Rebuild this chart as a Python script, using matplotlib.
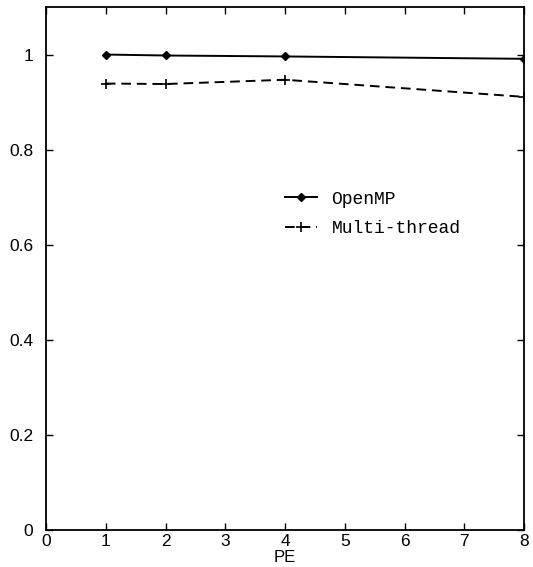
import matplotlib
matplotlib.use("Agg")
import matplotlib.pyplot as plt
from matplotlib.ticker import FuncFormatter

# data
pe = [1, 2, 4, 8]
openmp = [1.0, 0.998, 0.996, 0.991]
multi_thread = [0.939, 0.938, 0.947, 0.911]

xticks = [0, 1, 2, 3, 4, 5, 6, 7, 8]
yticks = [0, 0.2, 0.4, 0.6, 0.8, 1.0]

plt.rcParams['font.family'] = ['Liberation Sans', 'DejaVu Sans']

fig = plt.figure(figsize=(5.33, 5.67), dpi=100)
ax = fig.add_axes([46 / 533, 37 / 567, (524 - 46) / 533, (560 - 37) / 567])

ax.plot(pe, openmp, '-', color='black', lw=1.4, marker='D', ms=4, label='OpenMP')
ax.plot(pe, multi_thread, '--', color='black', lw=1.4, marker='+', ms=7,
        mew=1.2, dashes=(5, 3), label='Multi-thread')

ax.set_xlim(0, 8)
ax.set_ylim(0, 1.1)
ax.set_xticks(xticks)
ax.set_yticks(yticks)
ax.yaxis.set_major_formatter(FuncFormatter(lambda v, p: f"{v:g}"))
ax.tick_params(direction='in', length=5, width=1, top=True, right=True,
               labelsize=12.5, pad=3)
ax.tick_params(axis='y', pad=9)
for s in ax.spines.values():
    s.set_linewidth(1.3)

ax.set_xlabel('PE', fontsize=12, labelpad=0.5)

leg = ax.legend(loc='upper left', bbox_to_anchor=(0.465, 0.68), frameon=False,
                prop={'family': 'Liberation Mono', 'size': 13},
                handlelength=1.8, handletextpad=0.8, labelspacing=0.7)

fig.savefig('out.png', dpi=100)
